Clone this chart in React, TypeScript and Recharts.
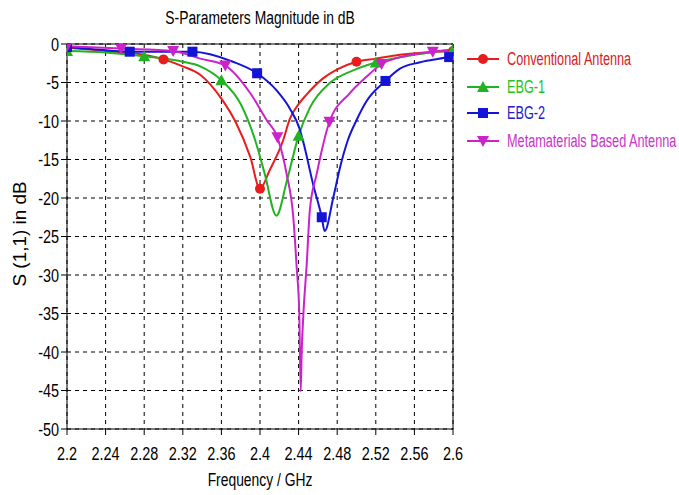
import React from 'react';
import { ComposedChart, Line, Scatter, XAxis, YAxis, CartesianGrid, ReferenceLine } from 'recharts';

// S11 curves, [frequency GHz, dB]
const conventional: [number, number][] = [
    [2.2, -0.5], [2.24, -0.9], [2.28, -1.4], [2.3, -2.0], [2.32, -2.9], [2.338, -4.0],
    [2.36, -7.1], [2.375, -10.2], [2.39, -14.7], [2.4, -18.8], [2.41, -16.4], [2.424, -12.5],
    [2.431, -9.7], [2.44, -7.8], [2.448, -6.6], [2.465, -4.5], [2.48, -3.3], [2.5, -2.3],
    [2.52, -1.9], [2.545, -1.4], [2.6, -0.9],
];
const conventionalMarks = [2.2, 2.3, 2.4, 2.5, 2.6];

const ebg1: [number, number][] = [
    [2.2, -0.9], [2.24, -1.1], [2.28, -1.6], [2.32, -2.3], [2.338, -2.9], [2.36, -4.7],
    [2.38, -7.8], [2.395, -12.5], [2.405, -16.9], [2.417, -22.3], [2.428, -17.7], [2.44, -11.9],
    [2.452, -8.2], [2.472, -5.1], [2.497, -3.4], [2.52, -2.4], [2.56, -1.4], [2.6, -0.7],
];
const ebg1Marks = [2.2, 2.28, 2.36, 2.44, 2.52, 2.6];

const ebg2: [number, number][] = [
    [2.2, -0.4], [2.23, -0.7], [2.265, -1.0], [2.3, -1.0], [2.33, -1.0], [2.372, -2.3],
    [2.397, -3.8], [2.417, -6.0], [2.431, -8.4], [2.441, -11.0], [2.445, -12.8], [2.455, -18.2],
    [2.464, -22.5], [2.467, -24.3], [2.476, -19.9], [2.483, -16.0], [2.491, -12.5], [2.5, -9.9],
    [2.51, -7.5], [2.53, -4.8], [2.545, -3.2], [2.565, -2.4], [2.596, -1.7], [2.6, -1.6],
];
const ebg2Marks = [2.2, 2.265, 2.33, 2.397, 2.464, 2.53, 2.596];

const meta: [number, number][] = [
    [2.2, -0.3], [2.256, -0.6], [2.31, -0.9], [2.338, -1.9], [2.364, -2.8], [2.39, -6.4],
    [2.407, -9.9], [2.418, -12.1], [2.4276, -16.9], [2.4345, -22.5], [2.438, -29], [2.4407, -35],
    [2.4422, -45.1], [2.4432, -40], [2.445, -35], [2.4484, -28.6], [2.4517, -21.5], [2.4587, -16.9],
    [2.472, -10.1], [2.493, -6.4], [2.51, -4.3], [2.526, -2.6], [2.545, -1.7], [2.579, -1.0],
    [2.6, -0.7],
];
const metaMarks = [2.2, 2.256, 2.31, 2.364, 2.418, 2.472, 2.526, 2.579];

const freqTicks = [2.2, 2.24, 2.28, 2.32, 2.36, 2.4, 2.44, 2.48, 2.52, 2.56, 2.6];
const dbTicks = [0, -5, -10, -15, -20, -25, -30, -35, -40, -45, -50];

type MarkerKind = 'circle' | 'up' | 'square' | 'down';

const series = [
    { name: 'Conventional Antenna', points: conventional, marks: conventionalMarks, color: '#e81c1c', text: '#d92020', marker: 'circle' as MarkerKind },
    { name: 'EBG-1', points: ebg1, marks: ebg1Marks, color: '#22b322', text: '#22c422', marker: 'up' as MarkerKind },
    { name: 'EBG-2', points: ebg2, marks: ebg2Marks, color: '#1414d8', text: '#2020c8', marker: 'square' as MarkerKind },
    { name: 'Metamaterials Based Antenna', points: meta, marks: metaMarks, color: '#cc22cc', text: '#c833c8', marker: 'down' as MarkerKind },
];

// Arial-metric font squeezed horizontally to get the narrow look
const FONT = '"Liberation Sans", Arial, sans-serif';
const SQUEEZE = 0.76;

const toRows = (pts: [number, number][]) => pts.map(([f, db]) => ({ f, db }));
const markRows = (pts: [number, number][], marks: number[]) =>
    pts.filter(([f]) => marks.includes(f)).map(([f, db]) => ({ f, db }));

function Marker({ kind, cx, cy, color }: { kind: MarkerKind; cx: number; cy: number; color: string }) {
    if (kind === 'circle') return <circle cx={cx} cy={cy} r={5} fill={color} />;
    if (kind === 'square') return <rect x={cx - 5} y={cy - 5} width={10} height={10} fill={color} />;
    if (kind === 'up') return <polygon points={`${cx},${cy - 6} ${cx + 6},${cy + 5} ${cx - 6},${cy + 5}`} fill={color} />;
    return <polygon points={`${cx},${cy + 6} ${cx + 6},${cy - 5} ${cx - 6},${cy - 5}`} fill={color} />;
}

function XTick({ x, y, payload }: any) {
    return (
        <g transform={`translate(${x},${y}) scale(${SQUEEZE},1)`}>
            <text textAnchor="middle" dy="0.71em" fontSize={19} fontFamily={FONT} fill="#000">{payload.value}</text>
        </g>
    );
}

function YTick({ x, y, payload }: any) {
    return (
        <g transform={`translate(${x},${y}) scale(${SQUEEZE},1)`}>
            <text textAnchor="end" dy="0.355em" fontSize={19} fontFamily={FONT} fill="#000">{payload.value}</text>
        </g>
    );
}

const narrow = (scale: number, origin: string): React.CSSProperties => ({
    display: 'inline-block',
    transform: `scaleX(${scale})`,
    transformOrigin: origin,
    whiteSpace: 'nowrap',
});

const legendTops = [59, 87, 113, 141];

function LegendBox() {
    return (
        <>
            {series.map((s, i) => (
                <div key={s.name} style={{ position: 'absolute', left: 465, top: legendTops[i] - 10, height: 20, display: 'flex', alignItems: 'center', whiteSpace: 'nowrap' }}>
                    <svg width={36} height={20}>
                        <line x1={2} y1={10} x2={34} y2={10} stroke={s.color} strokeWidth={2} />
                        <Marker kind={s.marker} cx={18} cy={10} color={s.color} />
                    </svg>
                    <span style={{ marginLeft: 6, fontFamily: FONT, fontSize: 18, color: s.text, ...narrow(0.705, 'left center') }}>{s.name}</span>
                </div>
            ))}
        </>
    );
}

export default function App() {
    return (
        <div style={{ position: 'absolute', left: 0, top: 0, width: 679, height: 495, background: '#fff', overflow: 'hidden' }}>
            <ComposedChart width={679} height={495} margin={{ top: 44, right: 226, bottom: 0, left: 0 }}>
                <CartesianGrid stroke="#000" strokeDasharray="4 4" />
                <XAxis
                    type="number"
                    dataKey="f"
                    domain={[2.2, 2.6]}
                    ticks={freqTicks}
                    allowDataOverflow
                    height={66}
                    tickSize={6}
                    tickMargin={12}
                    stroke="#000"
                    tick={<XTick />}
                />
                <YAxis
                    type="number"
                    dataKey="db"
                    domain={[-50, 0]}
                    ticks={dbTicks}
                    allowDataOverflow
                    width={67}
                    tickSize={6}
                    tickMargin={2}
                    stroke="#000"
                    tick={<YTick />}
                />
                <ReferenceLine y={0} stroke="#000" />
                <ReferenceLine x={2.6} stroke="#000" />
                {series.map((s) => (
                    <Line
                        key={s.name}
                        data={toRows(s.points)}
                        dataKey="db"
                        type="monotone"
                        stroke={s.color}
                        strokeWidth={2}
                        dot={false}
                        activeDot={false}
                        isAnimationActive={false}
                    />
                ))}
                {series.map((s) => (
                    <Scatter
                        key={`${s.name}-marks`}
                        data={markRows(s.points, s.marks)}
                        dataKey="db"
                        isAnimationActive={false}
                        shape={(p: any) => <Marker kind={s.marker} cx={p.cx} cy={p.cy} color={s.color} />}
                    />
                ))}
            </ComposedChart>
            <div style={{ position: 'absolute', left: 60, width: 400, top: 6, textAlign: 'center', fontFamily: FONT, fontSize: 18, lineHeight: '24px' }}>
                <span style={narrow(0.77, 'center center')}>S-Parameters Magnitude in dB</span>
            </div>
            <div style={{ position: 'absolute', left: 60, width: 400, top: 468, textAlign: 'center', fontFamily: FONT, fontSize: 18, lineHeight: '24px' }}>
                <span style={narrow(0.77, 'center center')}>Frequency / GHz</span>
            </div>
            <div style={{ position: 'absolute', left: 20, top: 234, width: 0, height: 0 }}>
                <div style={{ position: 'absolute', transform: 'translate(-50%, -50%) rotate(-90deg) scaleX(1.05)', whiteSpace: 'nowrap', fontFamily: FONT, fontSize: 18, lineHeight: '22px' }}>
                    S (1,1) in dB
                </div>
            </div>
            <LegendBox />
        </div>
    );
}
